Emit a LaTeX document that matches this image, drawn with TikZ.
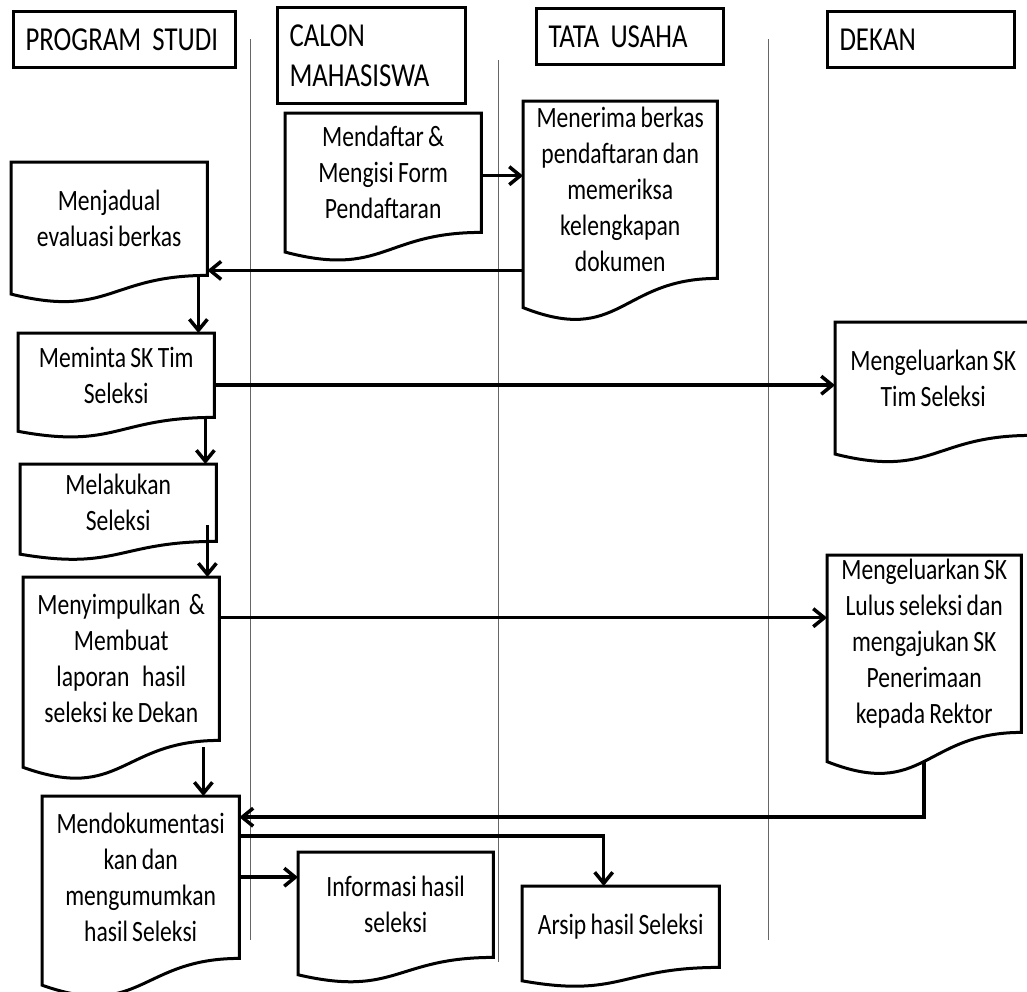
\documentclass[tikz,border=0pt]{standalone}
\usepackage{fontspec}
\setmainfont[FakeStretch=0.8,WordSpace=0.8]{Carlito}
\usepackage{tikz}
\usetikzlibrary{positioning}
\usetikzlibrary{calc,arrows.meta}
\tikzstyle{line} = [draw, line width=3.5pt, -{Straight Barb[length=11pt,width=18pt]}]
\tikzstyle{kepala} = [draw, line width=3pt, anchor=north west, inner xsep=12pt, align=left, font=\fontsize{33.5}{40}\selectfont]
\tikzstyle{proses} = [anchor=north west, inner sep=0pt, align=center, font=\fontsize{29.5}{36}\selectfont]
\tikzstyle{lajur} = [draw=black!60, line width=1pt]
\newcommand{\dokumen}[1]{%
  \draw[line width=3pt] let \p1=(#1.north west), \p2=(#1.south east), \n1={\y1-\y2} in
    (\x2,\y2) -- (\x2,\y1) -- (\x1,\y1) -- (\x1,{\y2-0.1646*\n1})
    .. controls ({(\x1+\x2)/2},{\y2-0.381*\n1}) and ({(\x1+\x2)/2},\y2) .. cycle;}

\begin{document}
\begin{tikzpicture}[x=1pt, y=-1pt]
	\useasboundingbox (0,0) rectangle (1027,991);
	\draw[lajur] (250,39) -- (250,940);
	\draw[lajur] (498,60) -- (498,962);
	\draw[lajur] (768,39) -- (768,940);
	
	\node[kepala, text width=198pt, minimum height=56pt] (prodi) at (12,10) {PROGRAM STUDI};
	\node[kepala, text width=164pt, minimum height=96pt] (calon) at (276,6) {CALON\\MAHASISWA};
	\node[kepala, text width=163pt, minimum height=56pt] (tu) at (535,7) {TATA USAHA};
	\node[kepala, text width=163pt, minimum height=56pt] (dekan) at (826,10) {DEKAN};
	
	\node[proses, minimum width=196pt, minimum height=119pt] (daftar) at (285,113) {Mendaftar \&\\Mengisi Form\\Pendaftaran};
	\node[proses, minimum width=194pt, minimum height=177pt] (terima) at (523,101) {Menerima berkas\\pendaftaran dan\\memeriksa\\kelengkapan\\dokumen};
	\node[proses, minimum width=196pt, minimum height=113pt] (jadual) at (11,162) {Menjadual\\evaluasi berkas};
	\node[proses, minimum width=196pt, minimum height=84pt] (minta) at (18,333) {Meminta SK Tim\\Seleksi};
	\node[proses, minimum width=196pt, minimum height=113pt] (sktim) at (835,322) {Mengeluarkan SK\\Tim Seleksi};
	\node[proses, minimum width=196pt, minimum height=77pt] (seleksi) at (20,464) {Melakukan\\Seleksi};
	\node[proses, minimum width=196pt, minimum height=163pt] (simpul) at (23,577) {Menyimpulkan~~\&\\Membuat\\laporan~~~hasil\\seleksi ke Dekan};
	\node[proses, minimum width=194pt, minimum height=177pt] (sklulus) at (827,555) {Mengeluarkan SK\\Lulus seleksi dan\\mengajukan SK\\Penerimaan\\kepada Rektor};
	\node[proses, minimum width=197pt, minimum height=162pt] (dokumentasi) at (42,796) {Mendokumentasi\\kan dan\\mengumumkan\\hasil Seleksi};
	\node[proses, minimum width=195pt, minimum height=105pt] (informasi) at (298,852) {Informasi hasil\\seleksi};
	\node[proses, minimum width=197pt, minimum height=81pt] (arsip) at (522,886) {Arsip hasil Seleksi};
	
	\foreach \d in {daftar,terima,jadual,minta,sktim,seleksi,simpul,sklulus,dokumentasi,informasi,arsip}
		\dokumen{\d};
	
	\coordinate (tukiri) at ([yshift=8pt]terima.south west);
	\coordinate (lulusbawah) at ([yshift=-29pt]sklulus.south);
	\draw[line] ([yshift=-3pt]daftar.east) -- ([yshift=-3pt]daftar.east -| terima.west);
	\draw[line] (tukiri) -- (tukiri -| jadual.east);
	\draw[line] ([xshift=-9pt]jadual.south east) -- ([xshift=-9pt]jadual.south east |- minta.north);
	\draw[line] ([yshift=-10pt]minta.east) -- ([yshift=-10pt]minta.east -| sktim.west);
	\draw[line] ([xshift=-9pt]minta.south east) -- ([xshift=-9pt]minta.south east |- seleksi.north);
	\draw[line] ([xshift=-9pt,yshift=16pt]seleksi.south east) -- ([xshift=-9pt]seleksi.south east |- simpul.north);
	\draw[line] ([yshift=41pt]simpul.east) -- ([yshift=41pt]simpul.east -| sklulus.west);
	\draw[line] ([xshift=-16pt,yshift=-7pt]simpul.south east) -- ([xshift=-16pt]simpul.south east |- dokumentasi.north);
	\draw[line] (lulusbawah) |- ([yshift=60pt]dokumentasi.east);
	\draw[line] ([yshift=41pt]dokumentasi.east) -| ([xshift=-17pt]arsip.north);
	\draw[line] (dokumentasi.east) -- (dokumentasi.east -| informasi.west);
\end{tikzpicture}
\end{document}
